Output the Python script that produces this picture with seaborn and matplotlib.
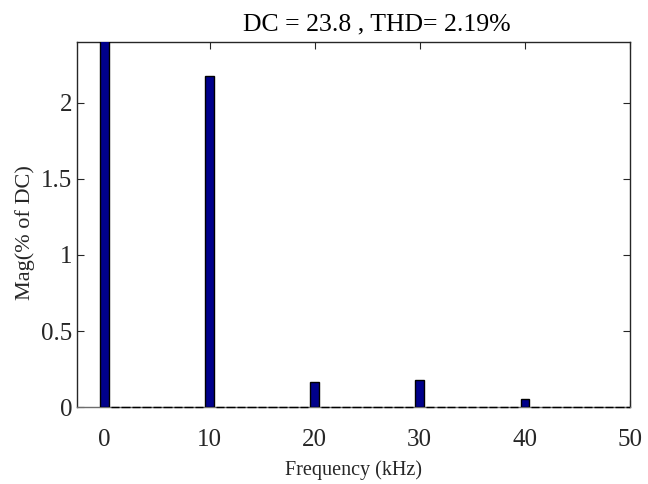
import matplotlib

matplotlib.use("Agg")
import matplotlib.pyplot as plt
import numpy as np
import pandas as pd
import seaborn as sns
from matplotlib.ticker import FuncFormatter
from matplotlib.transforms import Bbox, TransformedBbox

# FFT bins (1 kHz resolution) and harmonic magnitudes in % of DC
bin_khz = np.arange(0, 51)
harmonic_khz = [0, 10, 20, 30, 40]
harmonic_mag = [100.0, 2.18, 0.165, 0.18, 0.055]
x_ticks = [0, 10, 20, 30, 40, 50]
y_ticks = [0, 0.5, 1, 1.5, 2]
title_text = "DC = 23.8 , THD= 2.19%"

BAR_COLOR = "#00008B"
INK = "#262626"

mag = pd.Series(0.0, index=bin_khz)
mag.loc[harmonic_khz] = harmonic_mag
data = pd.DataFrame({"freq": bin_khz, "mag": mag.values})

sns.set_theme(style="ticks")
plt.rcParams["font.family"] = ["Liberation Serif", "DejaVu Serif"]

figure = plt.figure(figsize=(6.48, 4.84), dpi=100)
axis = figure.add_axes([0.119, 0.159, 0.853, 0.754])

sns.barplot(
    data=data,
    x="freq",
    y="mag",
    native_scale=True,
    width=0.8,
    color=BAR_COLOR,
    saturation=1,
    edgecolor="black",
    linewidth=1.0,
    errorbar=None,
    ax=axis,
    zorder=3,
)
# empty bins show as black dashes along the zero line: let them spill
# over the bottom edge but stay inside the box left/right
zero_clip = TransformedBbox(Bbox([[0, -0.02], [1, 1]]), axis.transAxes)
for bar in axis.patches:
    if bar.get_height() == 0:
        bar.set_clip_box(zero_clip)

axis.set_xlim(-2.6, 50)
axis.set_ylim(0, 2.4)
axis.set_xticks(x_ticks)
axis.set_yticks(y_ticks)
axis.yaxis.set_major_formatter(FuncFormatter(lambda v, _: f"{v:g}"))
axis.tick_params(
    direction="in", top=True, right=True, length=5, width=0.8,
    labelsize=18, colors=INK,
)
axis.tick_params(axis="x", pad=15.5)
axis.tick_params(axis="y", pad=3.5)
for spine in axis.spines.values():
    spine.set_color(INK)
    spine.set_linewidth(1.0)
axis.spines["bottom"].set_color("#6e6e6e")

axis.set_xlabel("Frequency (kHz)", fontsize=14.5, color=INK, labelpad=7)
axis.set_ylabel("Mag(% of DC)", fontsize=16, color=INK, labelpad=4, y=0.478)
axis.text(
    0.543, 1 + 12 / 365, title_text, transform=axis.transAxes,
    ha="center", va="baseline", fontsize=18.5, color="black",
)

figure.savefig("out.png", dpi=100)
plt.close(figure)
